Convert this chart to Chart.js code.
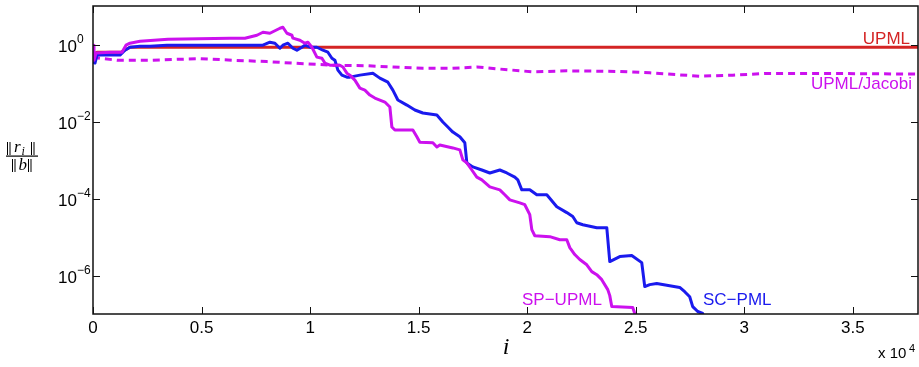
<!DOCTYPE html>
<html>
<head>
<meta charset="utf-8">
<script src="https://cdn.jsdelivr.net/npm/chart.js@4.4.1/dist/chart.umd.min.js"></script>
<style>
  html, body { margin: 0; padding: 0; background: #fff; }
  #wrap { width: 919px; height: 367px; }
</style>
</head>
<body>
<div id="wrap"><canvas id="chart" width="919" height="367"></canvas></div>
<script>
// --- data (iteration i, relative residual ||r_i||/||b||) ---
const upmlIter = [0, 184, 1289, 1703, 2394, 38000];
const upmlRes  = [0.53, 0.63, 0.63, 0.85, 0.85, 0.85];

const jacobiIter = [0, 322, 1105, 2624, 4926, 6446, 8011, 9530, 11050, 12615, 13812, 15193,
                    16436, 17679, 18738, 20258, 21823, 24125, 25644, 27946, 29466, 31031, 34070, 38000];
const jacobiRes  = [0.47, 0.44, 0.39, 0.39, 0.43, 0.39, 0.36, 0.32, 0.29, 0.28, 0.26, 0.24,
                    0.24, 0.26, 0.23, 0.195, 0.207, 0.2, 0.184, 0.15, 0.16, 0.177, 0.177, 0.17];

const spIter = [0, 46, 138, 783, 1335, 1519, 1703, 2164, 3453, 6307, 6998, 7551, 7827, 8149, 8610,
                8748, 8932, 9162, 9208, 9530, 9760, 9899, 10083, 10313, 10543, 10681, 10911, 11372,
                11510, 11694, 11832, 12062, 12293, 12523, 12753, 12983, 13213, 13444, 13674, 13766,
                13904, 14733, 14917, 15055, 15654, 15838, 15976, 16574, 16897, 17035, 17219, 17449,
                17679, 17910, 18278, 18738, 18968, 19199, 19659, 19889, 20119, 20212, 20350, 21040,
                21501, 21823, 21961, 22191, 22421, 22744, 22974, 23204, 23434, 23711, 23803, 23895,
                24861, 24953, 25046];
const spRes  = [0.96, 0.39, 0.60, 0.63, 0.63, 0.96, 1.08, 1.22, 1.37, 1.46, 1.46, 1.74, 2.08, 1.96, 2.64,
                2.80, 1.96, 1.74, 1.46, 1.29, 1.08, 1.15, 0.85, 0.47, 0.44, 0.33, 0.29, 0.29,
                0.26, 0.18, 0.16, 0.119, 0.0738, 0.0655, 0.0486, 0.0406, 0.0361, 0.0320, 0.0238, 0.0072,
                0.0060, 0.0060, 0.0040, 0.0029, 0.0028, 0.00218, 0.00246, 0.00206, 0.00183, 0.00101, 8.4e-4, 5.5e-4,
                3.6e-4, 3.05e-4, 2.0e-4, 1.68e-4, 1.25e-4, 9.2e-5, 7.7e-5, 6.9e-5, 3.8e-5, 1.55e-5, 1.08e-5, 1.02e-5,
                8.5e-6, 8.5e-6, 5.3e-6, 3.5e-6, 2.6e-6, 1.9e-6, 1.26e-6, 1.05e-6, 7.8e-7, 4.3e-7, 3.0e-7, 1.56e-7,
                1.47e-7, 1.03e-7, 5e-8];

const scIter = [0, 92, 184, 1243, 1473, 1703, 2164, 2624, 3407, 6307, 7827, 8149, 8379, 8610, 8748,
                8978, 9208, 9392, 9622, 9760, 9991, 10313, 10589, 10819, 11004, 11142, 11280, 11464,
                11694, 11832, 12293, 12891, 13213, 13582, 13812, 14042, 14457, 14825, 15193, 15838,
                16114, 16344, 16574, 16897, 17127, 17219, 17495, 17910, 18278, 18738, 19061, 19429,
                19567, 19751, 20119, 20442, 20902, 21363, 21823, 22099, 22283, 22560, 23204, 23665,
                23803, 24263, 24815, 25276, 25414, 25644, 25966, 27025, 27255, 27485, 27623, 27853,
                28084, 28176];
const scRes  = [0.35, 0.33, 0.53, 0.53, 0.71, 0.85, 0.90, 0.90, 0.96, 0.96, 0.96, 1.15, 1.08, 0.80, 0.96,
                1.08, 0.80, 0.71, 0.85, 0.96, 0.85, 0.85, 0.71, 0.63, 0.44, 0.39, 0.216, 0.16,
                0.142, 0.142, 0.16, 0.18, 0.134, 0.105, 0.0655, 0.0361, 0.0267, 0.0199, 0.0166, 0.0147,
                0.0097, 0.0072, 0.0053, 0.0040, 0.0028, 8.4e-4, 6.6e-4, 5.5e-4, 4.6e-4, 5.5e-4, 4.6e-4, 3.6e-4,
                3.05e-4, 1.68e-4, 1.68e-4, 1.25e-4, 1.25e-4, 6.1e-5, 4.3e-5, 3.4e-5, 2.35e-5, 2.08e-5, 1.74e-5, 1.74e-5,
                2.3e-6, 3.1e-6, 3.3e-6, 2.16e-6, 5.15e-7, 5.8e-7, 6.2e-7, 4.9e-7, 3.8e-7, 2.8e-7, 1.56e-7, 1.16e-7,
                1.03e-7, 6e-8];

const xTicks = [0, 5000, 10000, 15000, 20000, 25000, 30000, 35000];
const xTickLabels = ['0', '0.5', '1', '1.5', '2', '2.5', '3', '3.5'];
const yTickExps = [0, -2, -4, -6];

const RED = '#d42424';
const MAGENTA = '#cc11ee';
const BLUE = '#1a1aee';

function pairs(xs, ys) {
    return xs.map((x, k) => ({ x: x, y: ys[k] }));
}

// a double vertical bar (norm sign) drawn as two thin strokes
function normBar(ctx, x, top, h) {
    ctx.fillRect(x, top, 1, h);
    ctx.fillRect(x + 2.5, top, 1, h);
}

// Draws the MATLAB-style box, inward ticks, tick labels and the text annotations
const matlabAxes = {
    id: 'matlabAxes',
    afterDraw(chart) {
        const ctx = chart.ctx;
        const a = chart.chartArea;
        const xs = chart.scales.x;
        const ys = chart.scales.y;
        const tl = 7;
        ctx.save();

        // box
        ctx.strokeStyle = '#111';
        ctx.lineWidth = 1.5;
        ctx.strokeRect(a.left, a.top, a.right - a.left, a.bottom - a.top);

        // ticks
        ctx.lineWidth = 1;
        ctx.beginPath();
        xTicks.forEach(v => {
            const px = Math.round(xs.getPixelForValue(v)) + 0.5;
            ctx.moveTo(px, a.bottom); ctx.lineTo(px, a.bottom - tl);
            ctx.moveTo(px, a.top); ctx.lineTo(px, a.top + tl);
        });
        yTickExps.forEach(e => {
            const py = Math.round(ys.getPixelForValue(Math.pow(10, e))) + 0.5;
            ctx.moveTo(a.left, py); ctx.lineTo(a.left + tl, py);
            ctx.moveTo(a.right, py); ctx.lineTo(a.right - tl, py);
        });
        ctx.stroke();

        // x tick labels
        ctx.fillStyle = '#000';
        ctx.font = '17px "Liberation Sans", Arial, sans-serif';
        ctx.textAlign = 'center';
        ctx.textBaseline = 'alphabetic';
        xTicks.forEach((v, k) => {
            ctx.fillText(xTickLabels[k], xs.getPixelForValue(v), 333);
        });

        // y tick labels, 10 with a raised exponent
        yTickExps.forEach(e => {
            const py = ys.getPixelForValue(Math.pow(10, e));
            ctx.font = '17px "Liberation Sans", Arial, sans-serif';
            ctx.textAlign = 'left';
            ctx.fillText('10', 58, py + 7);
            const w = ctx.measureText('10').width;
            ctx.font = '12px "Liberation Sans", Arial, sans-serif';
            ctx.fillText(e === 0 ? '0' : '\u2212' + (-e), 58 + w, py - 2);
        });

        // x axis exponent "x 10^4"
        ctx.font = '15px "Liberation Sans", Arial, sans-serif';
        ctx.textAlign = 'left';
        ctx.fillText('x 10', 878, 358);
        ctx.font = '11px "Liberation Sans", Arial, sans-serif';
        ctx.fillText('4', 909, 352);

        // x axis title
        ctx.font = 'italic 24px "Liberation Serif", "DejaVu Serif", serif';
        ctx.textAlign = 'center';
        ctx.fillText('i', 506, 354);

        // y axis title: ||r_i|| / ||b||
        ctx.textAlign = 'left';
        normBar(ctx, 7, 142, 13);
        ctx.font = 'italic 17px "Liberation Serif", "DejaVu Serif", serif';
        ctx.fillText('r', 14, 152);
        ctx.font = 'italic 12px "Liberation Serif", "DejaVu Serif", serif';
        ctx.fillText('i', 21.5, 155);
        normBar(ctx, 31, 142, 13);
        ctx.fillRect(6, 155.5, 32, 1.2);
        normBar(ctx, 12, 159, 13);
        ctx.font = 'italic 17px "Liberation Serif", "DejaVu Serif", serif';
        ctx.fillText('b', 18.5, 170);
        normBar(ctx, 28, 159, 13);

        // curve labels
        ctx.font = '17px "Liberation Sans", Arial, sans-serif';
        ctx.textAlign = 'right';
        ctx.fillStyle = RED;
        ctx.fillText('UPML', 910, 44);
        ctx.fillStyle = MAGENTA;
        ctx.fillText('UPML/Jacobi', 912, 89);
        ctx.textAlign = 'left';
        ctx.fillText('SP\u2212UPML', 522, 305);
        ctx.fillStyle = BLUE;
        ctx.fillText('SC\u2212PML', 703, 305);

        ctx.restore();
    }
};

new Chart(document.getElementById('chart'), {
    type: 'line',
    data: {
        datasets: [
            { label: 'SP-UPML', data: pairs(spIter, spRes), borderColor: MAGENTA, borderWidth: 3 },
            { label: 'SC-PML', data: pairs(scIter, scRes), borderColor: BLUE, borderWidth: 3 },
            { label: 'UPML', data: pairs(upmlIter, upmlRes), borderColor: RED, borderWidth: 3 },
            { label: 'UPML/Jacobi', data: pairs(jacobiIter, jacobiRes), borderColor: MAGENTA, borderWidth: 3, borderDash: [7, 5] }
        ]
    },
    options: {
        responsive: false,
        animation: false,
        layout: { padding: { left: 93, right: 1, top: 6, bottom: 53 } },
        elements: {
            point: { radius: 0, hoverRadius: 0 },
            line: { tension: 0, borderJoinStyle: 'round', fill: false }
        },
        plugins: { legend: { display: false }, tooltip: { enabled: false } },
        scales: {
            x: { type: 'linear', display: false, min: 0, max: 38000 },
            y: { type: 'logarithmic', display: false, min: 1e-7, max: 10 }
        }
    },
    plugins: [matlabAxes]
});
</script>
</body>
</html>
